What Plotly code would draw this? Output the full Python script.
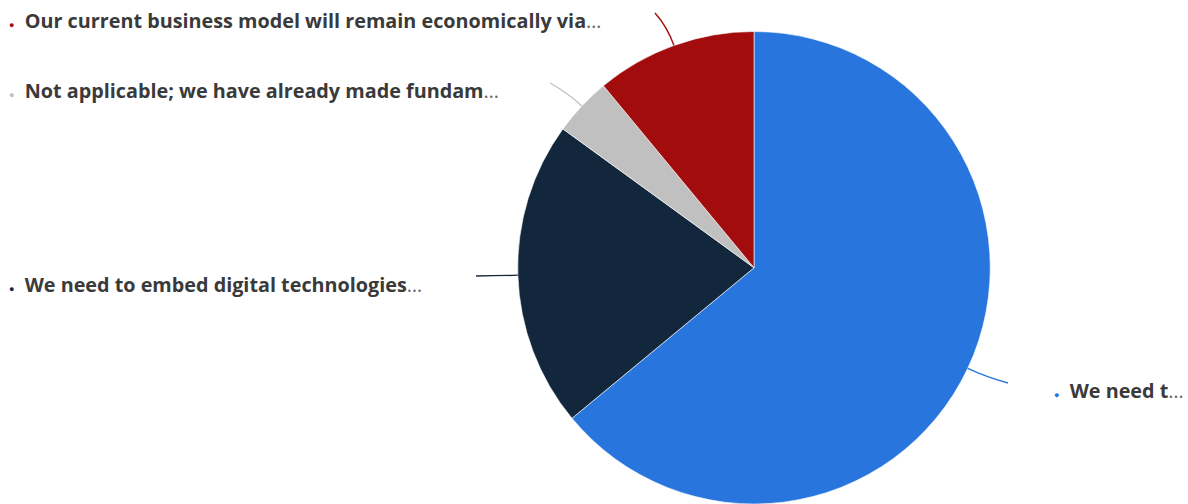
import math
import plotly.graph_objects as go

# Survey answers (share of respondents, %), in clockwise order from 12 o'clock
labels = [
    "We need t",
    "We need to embed digital technologies",
    "Not applicable; we have already made fundam",
    "Our current business model will remain economically via",
]
values = [64, 21, 4, 11]
colors = ["#2876dd", "#12263c", "#c0c0c0", "#a30c0c"]

W, H = 1188, 504

# Pie placement (pixels)
cx, cy, r = 754, 267.75, 236.25

# Label anchors (pixels): left edge of bullet, vertical centre of text
label_pos = [(1052, 390), (7, 284), (7, 90), (7, 21)]
# Where each connector line ends (pixels)
conn_end = [(1008, 383), (476, 276), (550, 83), (655, 13)]


def px(x, y):
    return x / W, 1 - y / H


dom_y = (0, 2 * r / H)
dom_x = ((cx - r) / W, (cx + r) / W)

fig = go.Figure(
    go.Pie(
        labels=labels,
        values=values,
        sort=False,
        direction="clockwise",
        rotation=0,
        marker=dict(colors=colors, line=dict(color="#ffffff", width=0.6)),
        textinfo="none",
        domain=dict(x=list(dom_x), y=list(dom_y)),
        showlegend=False,
    )
)

shapes = []
annotations = []
total = sum(values)
cum = 0
for lab, v, col, (lx, ly), (ex, ey) in zip(labels, values, colors, label_pos, conn_end):
    mid = (cum + v / 2) / total
    cum += v
    th = 2 * math.pi * mid
    dx, dy = math.sin(th), -math.cos(th)
    sx, sy = cx + r * dx, cy + r * dy
    qx, qy = sx + 20 * dx, sy + 20 * dy
    p0, p1, p2 = px(sx, sy), px(qx, qy), px(ex, ey)
    shapes.append(
        dict(
            type="path",
            xref="paper",
            yref="paper",
            path=f"M {p0[0]},{p0[1]} Q {p1[0]},{p1[1]} {p2[0]},{p2[1]}",
            line=dict(color=col, width=1.4),
        )
    )
    ax, ay = px(lx, ly)
    annotations.append(
        dict(
            x=ax,
            y=ay,
            xref="paper",
            yref="paper",
            xanchor="left",
            yanchor="middle",
            showarrow=False,
            text=(
                f"<span style='color:{col};font-size:9px'>●</span>  "
                f"<b>{lab}</b><span style='color:#666666'>…</span>"
            ),
            font=dict(family="Open Sans", size=19.8, color="#3a3a3a"),
        )
    )

fig.update_layout(
    width=W,
    height=H,
    margin=dict(l=0, r=0, t=0, b=0),
    paper_bgcolor="#ffffff",
    plot_bgcolor="#ffffff",
    shapes=shapes,
    annotations=annotations,
)

fig.write_html("out.html")
